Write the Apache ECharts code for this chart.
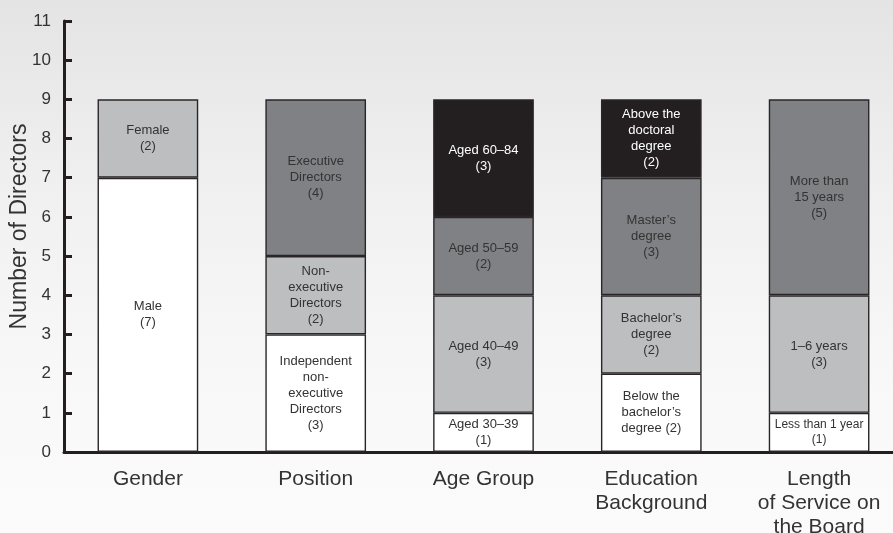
<!DOCTYPE html>
<html>
<head>
<meta charset="utf-8">
<script src="https://cdn.jsdelivr.net/npm/echarts@6/dist/echarts.min.js"></script>
<style>
html, body { margin: 0; padding: 0; }
#main {
  width: 893px; height: 533px;
  background: linear-gradient(to bottom, #e4e4e4 0%, #f0f0f0 35%, #f8f8f8 70%, #fbfbfb 100%);
}
</style>
</head>
<body>
<div id="main"></div>
<script>
// data
var categories = ['Gender', 'Position', 'Age Group', 'Education\nBackground', 'Length\nof Service on\nthe Board'];
var tier1 = [7, 3, 1, 2, 1];
var tier2 = [2, 2, 3, 2, 3];
var tier3 = [null, 4, 2, 3, 5];
var tier4 = [null, null, 3, 2, null];
var tier1Labels = ['Male\n(7)', 'Independent\nnon-\nexecutive\nDirectors\n(3)', 'Aged 30–39\n(1)', 'Below the\nbachelor’s\ndegree (2)', 'Less than 1 year\n(1)'];
var tier2Labels = ['Female\n(2)', 'Non-\nexecutive\nDirectors\n(2)', 'Aged 40–49\n(3)', 'Bachelor’s\ndegree\n(2)', '1–6 years\n(3)'];
var tier3Labels = ['', 'Executive\nDirectors\n(4)', 'Aged 50–59\n(2)', 'Master’s\ndegree\n(3)', 'More than\n15 years\n(5)'];
var tier4Labels = ['', '', 'Aged 60–84\n(3)', 'Above the\ndoctoral\ndegree\n(2)', ''];
var yTicks = [0, 1, 2, 3, 4, 5, 6, 7, 8, 9, 10, 11];

var font = 'Liberation Sans, Arial, sans-serif';

function makeSeries(name, values, labels, fill, textColor) {
  return {
    name: name,
    type: 'bar',
    stack: 'total',
    barWidth: '60%',
    data: values,
    itemStyle: { color: fill, borderColor: '#2a2627', borderWidth: 1.4 },
    label: {
      show: true,
      position: 'inside',
      color: textColor,
      fontFamily: font,
      fontSize: 13,
      lineHeight: 16,
      formatter: function (p) {
        var t = labels[p.dataIndex];
        if (p.dataIndex === 4 && name === 'tier1') {
          return '{s|' + t.split('\n').join('}\n{s|') + '}';
        }
        return t;
      },
      rich: { s: { fontSize: 12, lineHeight: 15, color: textColor, fontFamily: font } }
    }
  };
}

var chart = echarts.init(document.getElementById('main'));
chart.setOption({
  backgroundColor: 'transparent',
  animation: false,
  grid: { left: 64, top: 21, width: 839, height: 431, containLabel: false, outerBoundsMode: 'none' },
  xAxis: {
    type: 'category',
    data: categories,
    axisLine: { lineStyle: { color: '#231f20', width: 3 } },
    axisTick: { show: false },
    axisLabel: { color: '#333', fontSize: 21, lineHeight: 24, margin: 15, fontFamily: font }
  },
  yAxis: {
    type: 'value',
    min: yTicks[0],
    max: yTicks[yTicks.length - 1],
    interval: 1,
    name: 'Number of Directors',
    nameLocation: 'middle',
    nameGap: 33,
    nameMoveOverlap: false,
    nameTextStyle: { color: '#333', fontSize: 23, fontFamily: font, padding: [0, 0, 0, 20] },
    axisLine: { show: true, lineStyle: { color: '#231f20', width: 3 } },
    axisTick: { show: true, inside: true, length: 8, lineStyle: { color: '#231f20', width: 3 } },
    axisLabel: { color: '#333', fontSize: 17, margin: 13, fontFamily: font },
    splitLine: { show: false }
  },
  series: [
    makeSeries('tier1', tier1, tier1Labels, '#ffffff', '#333'),
    makeSeries('tier2', tier2, tier2Labels, '#bdbec0', '#333'),
    makeSeries('tier3', tier3, tier3Labels, '#808184', '#333'),
    makeSeries('tier4', tier4, tier4Labels, '#231f20', '#ffffff')
  ]
});
</script>
</body>
</html>
